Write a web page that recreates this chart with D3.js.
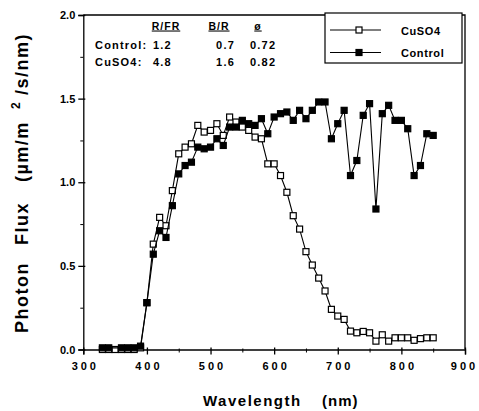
<!DOCTYPE html>
<html>
<head>
<meta charset="utf-8" />
<title></title>
<script src="https://cdn.jsdelivr.net/npm/d3@7"></script>
<style type="text/css">
    body { margin: 0; background: #fff; }
    text { font-family: "Liberation Sans", Arial, sans-serif; font-weight: bold; fill: #000; }
</style>
</head>
<body>
<div id="chart"></div>
<script type="text/javascript">
    // wavelength (nm) of each reading
    var wavelengths = [330, 340, 350, 360, 370, 380, 390, 400, 410, 420, 430, 440, 450, 460, 470, 480, 490,
        500, 510, 520, 530, 540, 550, 560, 570, 580, 590, 600, 610, 620, 630, 640, 650, 660, 670, 680, 690,
        700, 710, 720, 730, 740, 750, 760, 770, 780, 790, 800, 810, 820, 830, 840, 850];
    // photon flux, CuSO4 filter
    var cuso4 = [0.0, 0.0, 0.0, 0.0, 0.0, 0.0, 0.01, 0.28, 0.63, 0.79, 0.74, 0.95, 1.17, 1.21, 1.23, 1.34, 1.30,
        1.31, 1.35, 1.28, 1.39, 1.36, 1.33, 1.31, 1.27, 1.26, 1.11, 1.11, 1.04, 0.94, 0.80, 0.72, 0.585, 0.505, 0.427, 0.35, 0.24,
        0.20, 0.18, 0.11, 0.10, 0.108, 0.10, 0.05, 0.088, 0.05, 0.07, 0.07, 0.07, 0.055, 0.065, 0.07, 0.07];
    // photon flux, control (no reading drawn at 350)
    var control = [0.01, 0.01, null, 0.01, 0.01, 0.01, 0.02, 0.28, 0.57, 0.71, 0.67, 0.86, 1.05, 1.10, 1.12, 1.21, 1.20,
        1.21, 1.26, 1.22, 1.33, 1.33, 1.37, 1.35, 1.34, 1.38, 1.29, 1.39, 1.41, 1.42, 1.37, 1.43, 1.38, 1.43, 1.48, 1.48, 1.26,
        1.35, 1.43, 1.04, 1.13, 1.40, 1.47, 0.84, 1.41, 1.46, 1.37, 1.37, 1.32, 1.04, 1.10, 1.29, 1.28];

    var xTicks = [300, 400, 500, 600, 700, 800, 900];
    var xMinor = [350, 450, 550, 650, 750, 850];
    var yTicks = [0, 0.5, 1.0, 1.5, 2.0];
    var yMinor = [0.25, 0.75, 1.25, 1.75];

    // ratio table in the corner
    var tableHead = ["R/FR", "B/R", "ø"];
    var tableRows = [["Control:", "1.2", "0.7", "0.72"], ["CuSO4:", "4.8", "1.6", "0.82"]];

    var width = 479, height = 411;
    var svg = d3.select("#chart").append("svg")
        .attr("width", width)
        .attr("height", height);

    var x = d3.scaleLinear().domain([300, 900]).range([83.3, 465]);
    var y = d3.scaleLinear().domain([0, 2]).range([349.5, 15]);

    // frame top and right
    svg.append("path")
        .attr("d", "M" + x(300) + "," + y(2) + "H" + x(900) + "V" + y(0))
        .attr("fill", "none").attr("stroke", "#000").attr("stroke-width", 1.3);

    // x axis
    var gx = svg.append("g").attr("transform", "translate(0," + y(0) + ")")
        .call(d3.axisBottom(x).tickValues(xTicks).tickSize(5).tickPadding(8).tickFormat(d3.format("d")));
    gx.selectAll(".tick line").attr("y1", -2).attr("stroke-width", 1.3);
    gx.select(".domain").attr("stroke-width", 1.3);
    gx.selectAll(".tick text")
        .style("font-size", "11px").style("font-family", "Liberation Sans, Arial, sans-serif")
        .style("font-weight", "bold").style("letter-spacing", "3px")
        .attr("dx", function (d) { return d === 900 ? "-1px" : "1.5px"; });
    svg.append("g").attr("transform", "translate(0," + y(0) + ")")
        .call(d3.axisBottom(x).tickValues(xMinor).tickSize(3).tickFormat(""))
        .call(function (g) { g.select(".domain").remove(); g.selectAll(".tick line").attr("y1", -1); });

    // y axis
    var gy = svg.append("g").attr("transform", "translate(" + x(300) + ",0)")
        .call(d3.axisLeft(y).tickValues(yTicks).tickSize(5).tickPadding(3).tickFormat(d3.format(".1f")));
    gy.selectAll(".tick line").attr("x1", 2).attr("stroke-width", 1.3);
    gy.select(".domain").attr("stroke-width", 1.3);
    gy.selectAll(".tick text")
        .style("font-size", "11px").style("font-family", "Liberation Sans, Arial, sans-serif")
        .style("font-weight", "bold");
    svg.append("g").attr("transform", "translate(" + x(300) + ",0)")
        .call(d3.axisLeft(y).tickValues(yMinor).tickSize(3).tickFormat(""))
        .call(function (g) { g.select(".domain").remove(); });

    // series
    function pts(vals) {
        return wavelengths.map(function (w, i) { return { w: w, v: vals[i] }; })
            .filter(function (d) { return d.v !== null; });
    }
    var line = d3.line().x(function (d) { return x(d.w); }).y(function (d) { return y(d.v); });
    var ms = 6;

    function drawSeries(vals, fill) {
        var data = pts(vals);
        svg.append("path").datum(data)
            .attr("d", line).attr("fill", "none").attr("stroke", "#000").attr("stroke-width", 1.1);
        svg.append("g").selectAll("rect").data(data).enter().append("rect")
            .attr("x", function (d) { return x(d.w) - ms / 2; })
            .attr("y", function (d) { return y(d.v) - ms / 2; })
            .attr("width", ms).attr("height", ms)
            .attr("fill", fill).attr("stroke", "#000").attr("stroke-width", 1.2);
    }
    drawSeries(cuso4, "#fff");
    drawSeries(control, "#000");

    // legend
    var lg = svg.append("g");
    lg.append("rect").attr("x", 325).attr("y", 13).attr("width", 137).attr("height", 50)
        .attr("fill", "#fff").attr("stroke", "#000").attr("stroke-width", 1.2);
    var legendItems = [{ name: "CuSO4", fill: "#fff", yy: 30 }, { name: "Control", fill: "#000", yy: 52.5 }];
    legendItems.forEach(function (d) {
        lg.append("line").attr("x1", 330).attr("x2", 381).attr("y1", d.yy).attr("y2", d.yy)
            .attr("stroke", "#000").attr("stroke-width", 1.1);
        lg.append("rect").attr("x", 359 - ms / 2).attr("y", d.yy - ms / 2).attr("width", ms).attr("height", ms)
            .attr("fill", d.fill).attr("stroke", "#000").attr("stroke-width", 1.2);
        lg.append("text").attr("x", 401).attr("y", d.yy + 4.5)
            .style("font-size", "11px").style("letter-spacing", "0.6px").text(d.name);
    });

    // ratio table
    var colX = [166, 219, 258];
    tableHead.forEach(function (h, i) {
        svg.append("text").attr("x", colX[i]).attr("y", 29.5).attr("text-anchor", "middle")
            .style("font-size", "10.5px").style("letter-spacing", "1px")
            .style("text-decoration", "underline").text(h);
    });
    tableRows.forEach(function (r, j) {
        var yy = 49 + j * 16.5;
        svg.append("text").attr("x", 95).attr("y", yy).style("font-size", "11px").style("letter-spacing", "1.2px").text(r[0]);
        svg.append("text").attr("x", 153).attr("y", yy).style("font-size", "11px").style("letter-spacing", "1.2px").text(r[1]);
        svg.append("text").attr("x", 235).attr("y", yy).attr("text-anchor", "end").style("font-size", "11px").style("letter-spacing", "1.2px").text(r[2]);
        svg.append("text").attr("x", 250).attr("y", yy).style("font-size", "11px").style("letter-spacing", "1.2px").text(r[3]);
    });

    // axis titles
    svg.append("text").attr("x", 203).attr("y", 406).style("font-size", "15px").style("letter-spacing", "1.5px").text("Wavelength");
    svg.append("text").attr("x", 322).attr("y", 406).style("font-size", "15px").style("letter-spacing", "1px").text("(nm)");

    var yl = [{ s: "Photon", at: 333, fs: 18, bx: 28 }, { s: "Flux", at: 245, fs: 18, bx: 28 },
        { s: "(\u00b5m/m", at: 182, fs: 18, bx: 28 }, { s: "2", at: 109, fs: 12, bx: 20 },
        { s: "/s/nm)", at: 95, fs: 18, bx: 28 }];
    yl.forEach(function (d) {
        svg.append("text").attr("transform", "translate(" + d.bx + "," + d.at + ") rotate(-90)")
            .style("font-size", d.fs + "px").style("letter-spacing", "1.5px").text(d.s);
    });
</script>
</body>
</html>
